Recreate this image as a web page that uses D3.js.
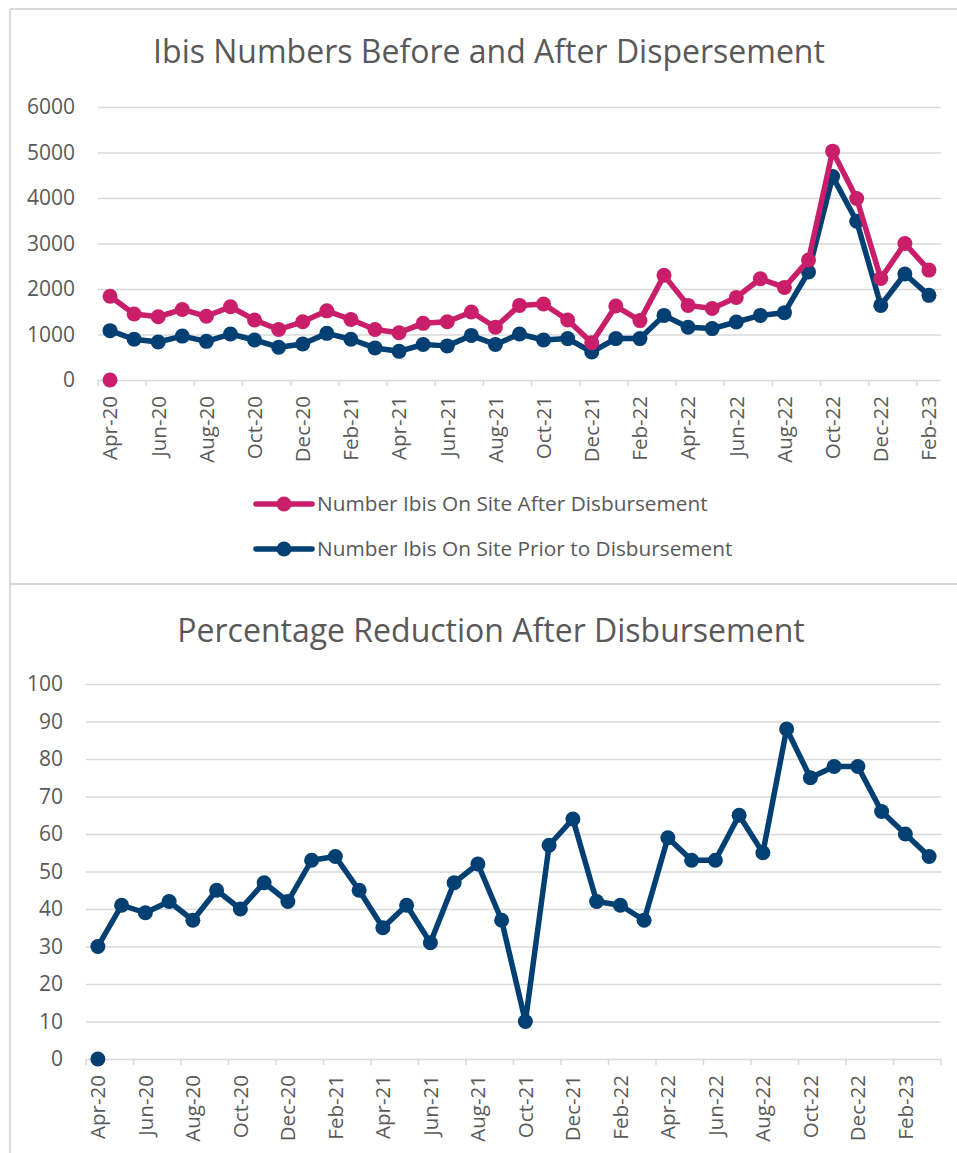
<!DOCTYPE html>
<html>
<head>
<meta charset="utf-8">
<script src="https://cdn.jsdelivr.net/npm/d3@7"></script>
<style>
  body { margin: 0; background: #fff; }
  text { font-family: 'Open Sans', sans-serif; fill: #595959; }
</style>
</head>
<body>
<div id="chart"></div>
<script>
// meses (eixo x)
const mesesTopo = ["Apr-20","May-20","Jun-20","Jul-20","Aug-20","Sep-20","Oct-20","Nov-20","Dec-20","Jan-21","Feb-21","Mar-21",
  "Apr-21","May-21","Jun-21","Jul-21","Aug-21","Sep-21","Oct-21","Nov-21","Dec-21","Jan-22","Feb-22","Mar-22",
  "Apr-22","May-22","Jun-22","Jul-22","Aug-22","Sep-22","Oct-22","Nov-22","Dec-22","Jan-23","Feb-23"];
const mesesBaixo = mesesTopo.concat(["Mar-23"]);
const rotulosMeses = ["Apr-20","Jun-20","Aug-20","Oct-20","Dec-20","Feb-21","Apr-21","Jun-21","Aug-21","Oct-21","Dec-21",
  "Feb-22","Apr-22","Jun-22","Aug-22","Oct-22","Dec-22","Feb-23"];

// séries
const depois = [1840,1450,1390,1550,1400,1610,1320,1110,1280,1520,1330,1110,1040,1245,1280,1495,
  1160,1640,1670,1320,820,1625,1305,2300,1640,1570,1815,2225,2035,2635,5030,3990,2230,3000,2415];
const antes = [1085,895,835,965,850,1010,880,720,790,1025,895,705,630,780,750,980,
  780,1010,880,910,615,910,910,1420,1160,1130,1275,1420,1480,2375,4470,3490,1640,2330,1860];
const reducao = [30,41,39,42,37,45,40,47,42,53,54,45,35,41,31,47,52,37,10,57,64,42,41,37,59,53,53,65,55,88,75,78,78,66,60,54];
// pontos soltos em zero (Apr-20)
const zeroTopo = [{ mes: "Apr-20", valor: 0 }];
const zeroBaixo = [{ mes: "Apr-20", valor: 0 }];

const ticksTopo = [0,1000,2000,3000,4000,5000,6000];
const ticksBaixo = [0,10,20,30,40,50,60,70,80,90,100];

const rosa = "#c91f6b", azul = "#023f73", grade = "#d9d9d9";

const svg = d3.select("#chart").append("svg")
  .attr("width", 957).attr("height", 1153);
svg.append("rect").attr("width", 957).attr("height", 1153).attr("fill", "#fff");

// bordas
svg.append("line").attr("x1", 10).attr("x2", 10).attr("y1", 9).attr("y2", 1153).attr("stroke", grade).attr("stroke-width", 2);
svg.append("line").attr("x1", 10).attr("x2", 957).attr("y1", 9).attr("y2", 9).attr("stroke", grade).attr("stroke-width", 2);
svg.append("line").attr("x1", 10).attr("x2", 957).attr("y1", 584).attr("y2", 584).attr("stroke", grade).attr("stroke-width", 2);

function gerarGrafico(cfg) {
  const x = d3.scaleBand().domain(cfg.meses).range([cfg.esq, cfg.dir]);
  const y = d3.scaleLinear().domain([0, cfg.max]).range([cfg.base, cfg.topo]);
  const meio = d => x(d) + x.bandwidth() / 2;

  svg.append("text")
    .attr("x", cfg.tituloX).attr("y", cfg.tituloY)
    .attr("text-anchor", "middle")
    .attr("font-size", "32px")
    .text(cfg.titulo);

  // grade + rótulos y
  const eixoY = svg.append("g")
    .attr("transform", "translate(" + cfg.esq + ",0)")
    .call(d3.axisLeft(y).tickValues(cfg.ticks).tickSize(-(cfg.dir - cfg.esq)).tickPadding(23).tickFormat(d3.format("d")));
  eixoY.select(".domain").remove();
  eixoY.selectAll(".tick line").attr("stroke", grade).attr("stroke-width", 1.5);
  eixoY.selectAll(".tick text").attr("font-size", "21px").attr("fill", "#595959");

  // marcas do eixo x a cada 2 categorias
  const limites = cfg.meses.map(m => x(m)).concat([cfg.dir]).filter((v, i) => i % 2 === 0);
  svg.append("g").selectAll("line").data(limites).enter().append("line")
    .attr("x1", d => d).attr("x2", d => d)
    .attr("y1", cfg.base).attr("y2", cfg.base + 6)
    .attr("stroke", grade).attr("stroke-width", 1.5);

  const eixoX = svg.append("g")
    .attr("transform", "translate(0," + cfg.base + ")")
    .call(d3.axisBottom(x).tickValues(rotulosMeses).tickSize(0));
  eixoX.select(".domain").remove();
  eixoX.selectAll(".tick text")
    .attr("transform", "rotate(-90)")
    .attr("text-anchor", "end")
    .attr("x", -16).attr("y", 0).attr("dy", "0.36em")
    .attr("font-size", "20.5px").attr("fill", "#595959");

  const linha = d3.line().x((d, i) => meio(cfg.meses[i])).y(d => y(d));

  cfg.series.forEach(s => {
    svg.append("path").datum(s.valores)
      .attr("d", linha)
      .attr("fill", "none").attr("stroke", s.cor)
      .attr("stroke-width", 5.5).attr("stroke-linejoin", "round");
    svg.append("g").selectAll("circle").data(s.valores).enter().append("circle")
      .attr("cx", (d, i) => meio(cfg.meses[i]))
      .attr("cy", d => y(d))
      .attr("r", 7.5).attr("fill", s.cor);
  });

  svg.append("g").selectAll("circle").data(cfg.zeros).enter().append("circle")
    .attr("cx", d => meio(d.mes)).attr("cy", d => y(d.valor))
    .attr("r", 7.5).attr("fill", cfg.corZero);
}

gerarGrafico({
  meses: mesesTopo, esq: 98, dir: 941, base: 380, topo: 107, max: 6000,
  ticks: ticksTopo, titulo: "Ibis Numbers Before and After Dispersement", tituloX: 489, tituloY: 63,
  series: [{ valores: antes, cor: azul }, { valores: depois, cor: rosa }],
  zeros: zeroTopo, corZero: rosa
});

gerarGrafico({
  meses: mesesBaixo, esq: 86, dir: 941, base: 1059, topo: 684, max: 100,
  ticks: ticksBaixo, titulo: "Percentage Reduction After Disbursement", tituloX: 491, tituloY: 642,
  series: [{ valores: reducao, cor: azul }],
  zeros: zeroBaixo, corZero: azul
});

// legenda
const legenda = [
  { nome: "Number Ibis On Site After Disbursement", cor: rosa, y: 504 },
  { nome: "Number Ibis On Site Prior to Disbursement", cor: azul, y: 549 }
];
const itens = svg.append("g").selectAll("g").data(legenda).enter().append("g");
itens.append("line").attr("x1", 256).attr("x2", 312).attr("y1", d => d.y).attr("y2", d => d.y)
  .attr("stroke", d => d.cor).attr("stroke-width", 5.5).attr("stroke-linecap", "round");
itens.append("circle").attr("cx", 284).attr("cy", d => d.y).attr("r", 7.5).attr("fill", d => d.cor);
itens.append("text").attr("x", 317).attr("y", d => d.y).attr("dy", "0.35em")
  .attr("font-size", "20.8px").text(d => d.nome);
</script>
</body>
</html>
